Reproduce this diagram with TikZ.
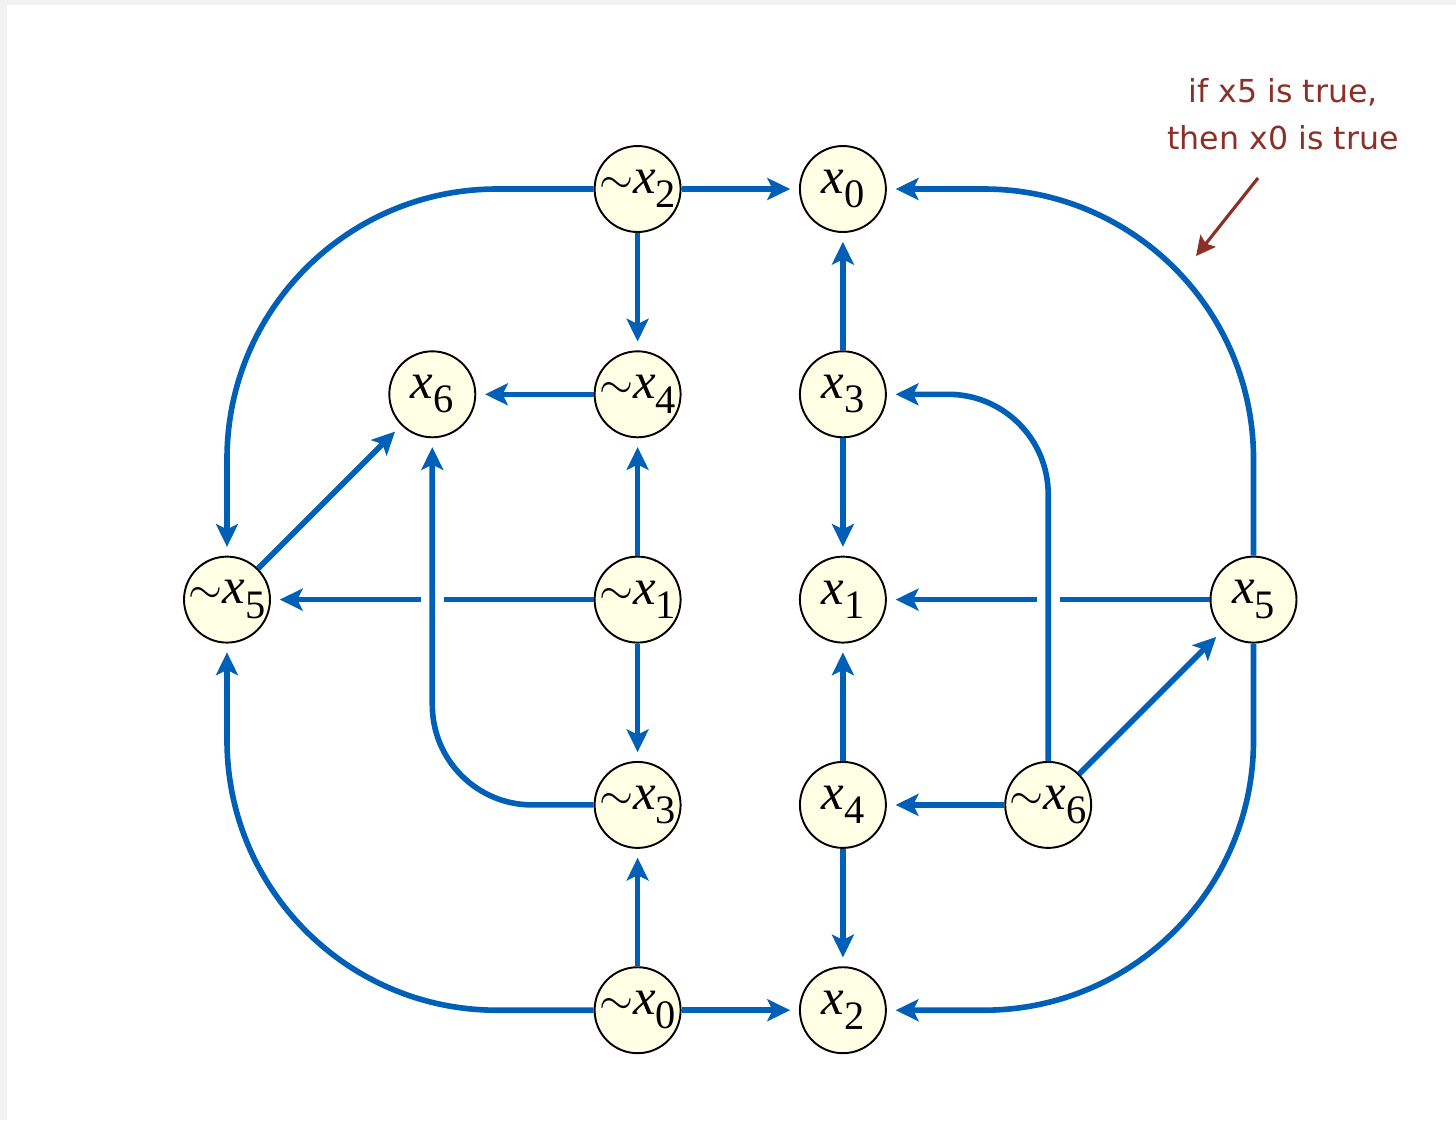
\documentclass[tikz,border=0pt]{standalone}
\usepackage{fontspec}
\setmainfont{Liberation Serif}
\newfontfamily\notefont{DejaVu Sans}
\usetikzlibrary{arrows.meta}
\definecolor{eblue}{HTML}{0060B8}
\definecolor{nfill}{HTML}{FFFFE6}
\definecolor{nred}{HTML}{8B3027}
\definecolor{bgray}{HTML}{F2F2F2}
\newcommand{\negt}{{\fontsize{26}{26}\selectfont$\sim$}}
\newcommand{\litx}[2]{#1\textit{x}\raisebox{-0.28em}{\fontsize{23}{23}\selectfont #2}}
\begin{document}
\begin{tikzpicture}[x=0.02cm,y=-0.02cm,
  lit/.style={circle, draw=black, line width=1.1pt, fill=nfill, minimum size=1.72cm, inner sep=0pt, font=\fontsize{29}{30}\selectfont},
  edge/.style={draw=eblue, line width=3.2pt, -{Stealth[length=13pt,width=12.5pt,inset=3pt]}, shorten >=5pt},
  eline/.style={draw=eblue, line width=3.2pt},
  bigturn/.style={rounded corners=5.4cm},
  smallturn/.style={rounded corners=2cm},
  note/.style={text=nred, font=\notefont\fontsize{18}{27}\selectfont, align=center, inner sep=0pt},
  notearrow/.style={draw=nred, line width=1.8pt, -{Stealth[length=11pt,width=11pt,inset=2pt]}}]
\useasboundingbox (0,0) rectangle (1456,1120);
\fill[bgray] (0,0) rectangle (1456,1120);
\fill[white] (7,5) rectangle (1456,1120);

\node[lit] (nn2) at (637.6,189) {\litx{\negt}{2}};
\node[lit] (p0)  at (842.9,189) {\litx{}{0}};
\node[lit] (p6)  at (432.3,394.3) {\litx{}{6}};
\node[lit] (nn4) at (637.6,394.3) {\litx{\negt}{4}};
\node[lit] (p3)  at (842.9,394.3) {\litx{}{3}};
\node[lit] (nn5) at (227,599.6) {\litx{\negt}{5}};
\node[lit] (nn1) at (637.6,599.6) {\litx{\negt}{1}};
\node[lit] (p1)  at (842.9,599.6) {\litx{}{1}};
\node[lit] (p5)  at (1253.5,599.6) {\litx{}{5}};
\node[lit] (nn3) at (637.6,804.9) {\litx{\negt}{3}};
\node[lit] (p4)  at (842.9,804.9) {\litx{}{4}};
\node[lit] (nn6) at (1048.2,804.9) {\litx{\negt}{6}};
\node[lit] (nn0) at (637.6,1010.2) {\litx{\negt}{0}};
\node[lit] (p2)  at (842.9,1010.2) {\litx{}{2}};

\coordinate (ga) at (444,599.6);
\coordinate (gb) at (421,599.6);
\coordinate (gc) at (1060,599.6);
\coordinate (gd) at (1037,599.6);

% left half
\draw[edge] (nn2) -- (p0);
\draw[edge] (nn2) -- (nn4);
\draw[edge,bigturn] (nn2.west) -| (nn5.north);
\draw[edge] (nn4) -- (p6);
\draw[edge] (nn1) -- (nn4);
\draw[edge] (nn1) -- (nn3);
\draw[eline] (nn1.west) -- (ga);
\draw[edge] (gb) -- (nn5);
\draw[edge] (nn5) -- (p6);
\draw[edge,smallturn] (nn3.west) -| (p6.south);
\draw[edge] (nn0) -- (nn3);
\draw[edge] (nn0) -- (p2);
\draw[edge,bigturn] (nn0.west) -| (nn5.south);
% right half
\draw[edge] (p3) -- (p0);
\draw[edge] (p3) -- (p1);
\draw[edge] (p4) -- (p1);
\draw[edge] (p4) -- (p2);
\draw[edge] (nn6) -- (p4);
\draw[edge,smallturn] (nn6.north) |- (p3.east);
\draw[edge] (nn6) -- (p5);
\draw[eline] (p5.west) -- (gc);
\draw[edge] (gd) -- (p1);
\draw[edge,bigturn] (p5.north) |- (p0.east);
\draw[edge,bigturn] (p5.south) |- (p2.east);

% annotation
\node[note] (ann) at (1283,114) {if x5 is true,\\then x0 is true};
\coordinate (ns) at (1258,178);
\coordinate (ne) at (1196,256);
\draw[notearrow] (ns) -- (ne);
\end{tikzpicture}
\end{document}
